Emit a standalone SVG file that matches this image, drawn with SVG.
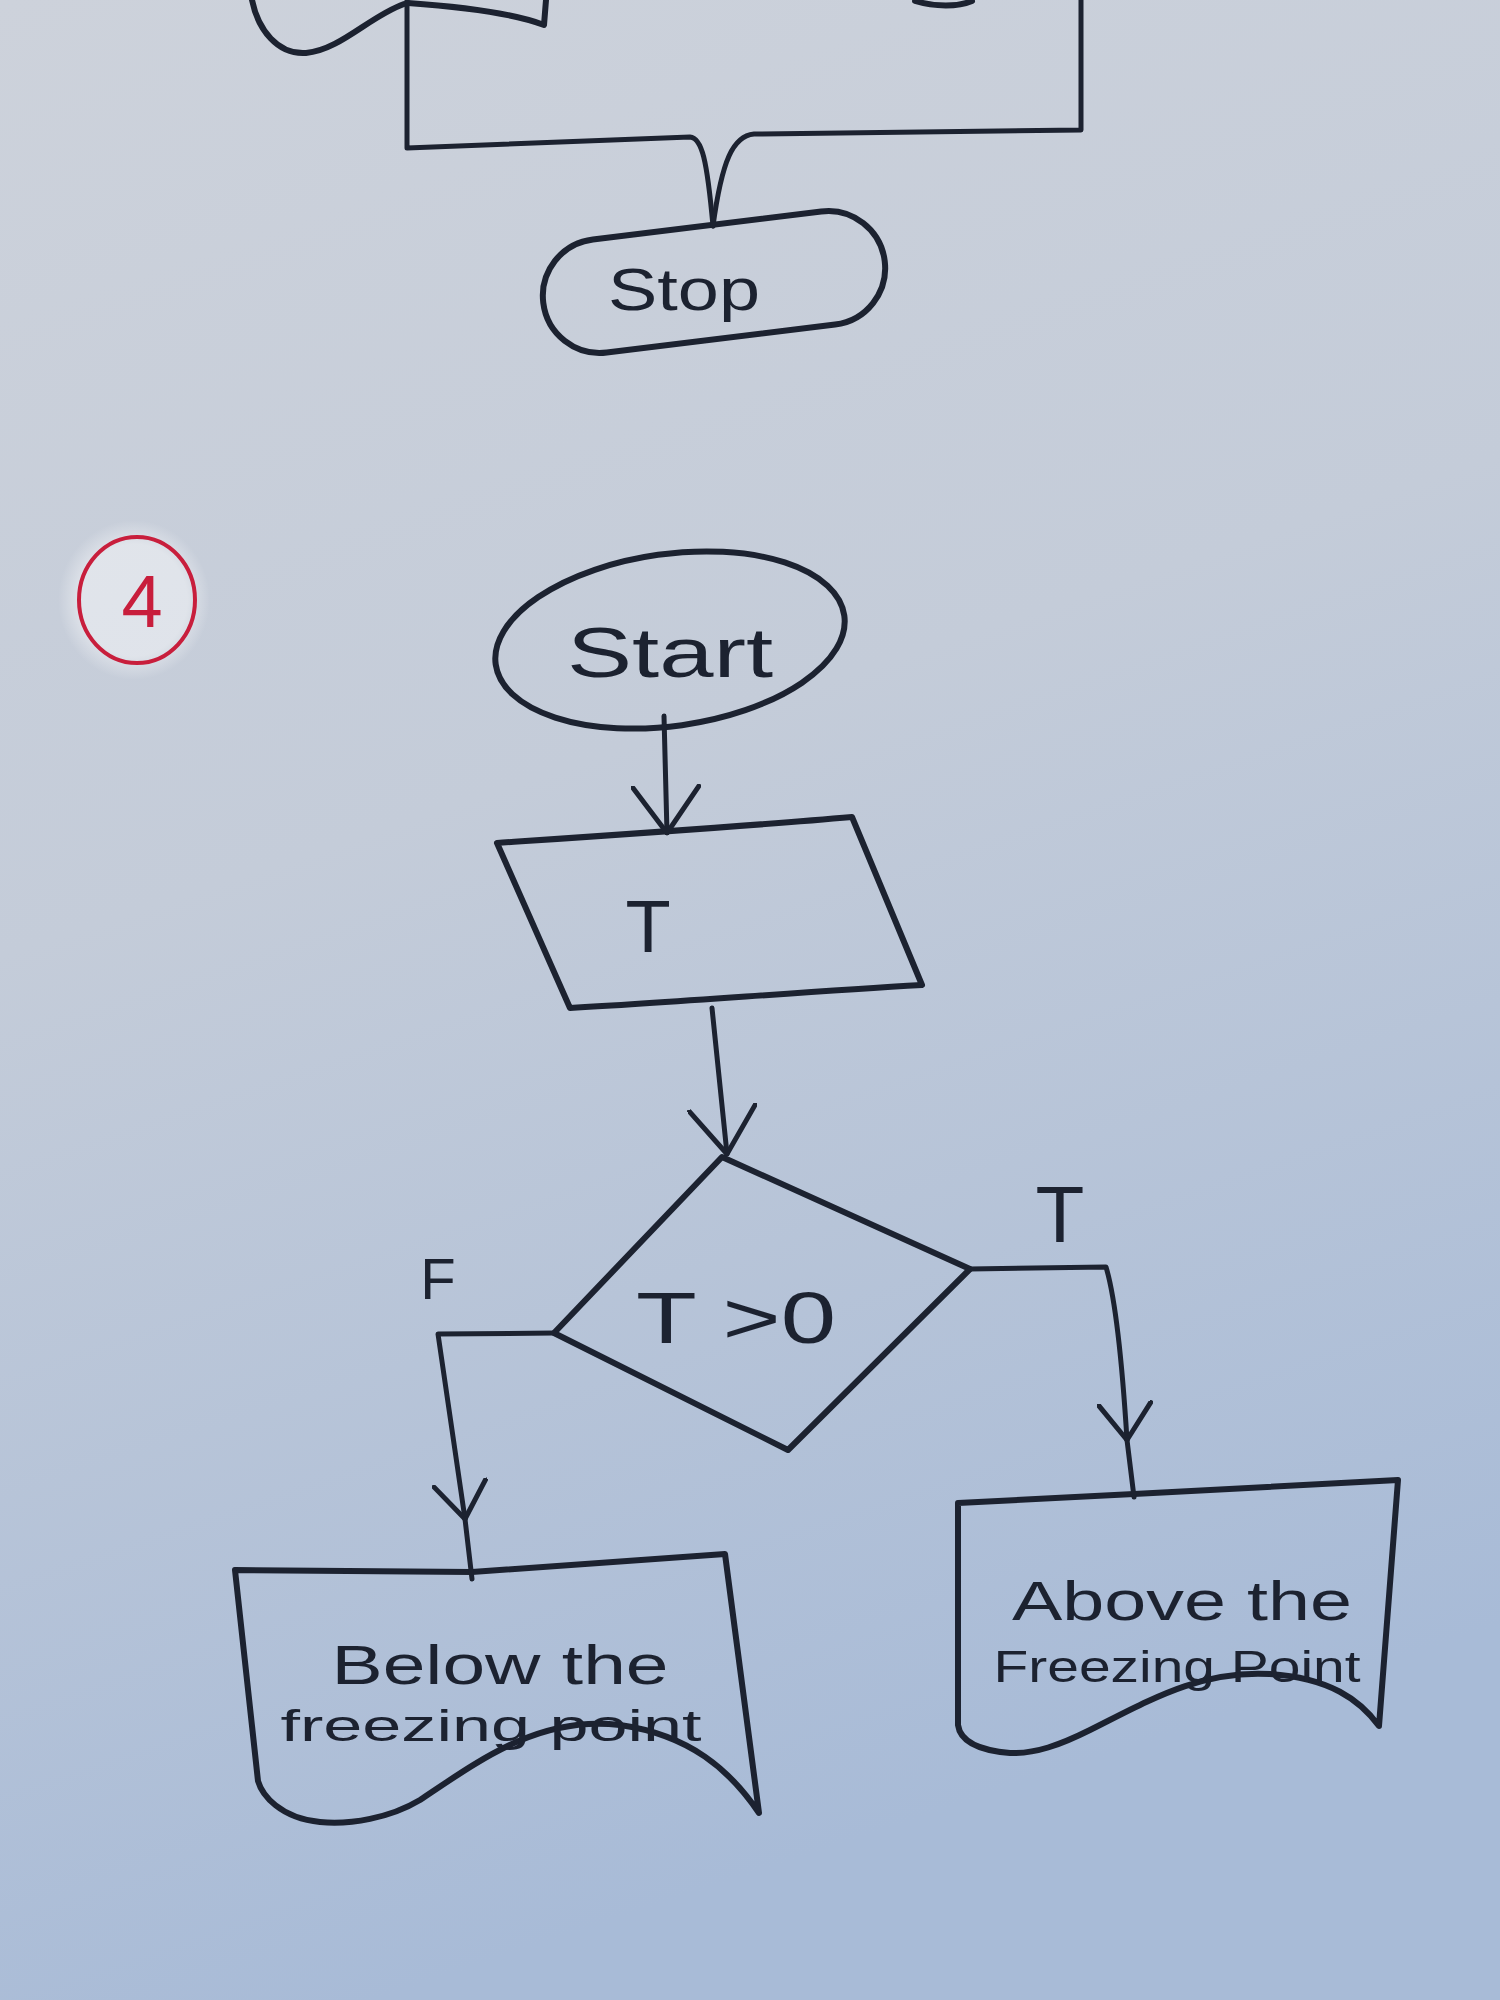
<svg xmlns="http://www.w3.org/2000/svg" width="1500" height="2000" viewBox="0 0 1500 2000">
<defs>
<linearGradient id="paper" x1="0" y1="0" x2="0.25" y2="1">
<stop offset="0" stop-color="#cdd2db"/>
<stop offset="0.45" stop-color="#c4ccd9"/>
<stop offset="1" stop-color="#a8bbd7"/>
</linearGradient>
<radialGradient id="halo" cx="0.5" cy="0.5" r="0.5">
<stop offset="0.7" stop-color="#ffffff" stop-opacity="0.45"/>
<stop offset="1" stop-color="#ffffff" stop-opacity="0"/>
</radialGradient>
<marker id="arrow" viewBox="0 0 50 70" refX="48" refY="35" markerWidth="50" markerHeight="70" markerUnits="userSpaceOnUse" orient="auto">
<path d="M2,2 L48,35 L2,68" fill="none" stroke="#1c2230" stroke-width="5" stroke-linecap="round" stroke-linejoin="round"/>
</marker>
<marker id="arrow-sm" viewBox="0 0 40 56" refX="38" refY="28" markerWidth="40" markerHeight="56" markerUnits="userSpaceOnUse" orient="auto">
<path d="M2,2 L38,28 L2,54" fill="none" stroke="#1c2230" stroke-width="5" stroke-linecap="round" stroke-linejoin="round"/>
</marker>
</defs>
<style>
.shape{fill:none;stroke:#1c2230;stroke-width:6;stroke-linejoin:round;stroke-linecap:round}
.conn{fill:none;stroke:#1c2230;stroke-width:5;stroke-linejoin:round;stroke-linecap:round}
.lbl{font-family:"Liberation Sans","DejaVu Sans",sans-serif;fill:#1c2230;text-anchor:middle}
.red{font-family:"Liberation Sans","DejaVu Sans",sans-serif;fill:#c81e3c;text-anchor:middle}
</style>
<rect x="0" y="0" width="1500" height="2000" fill="url(#paper)"/>

<g id="previous-chart">
<path class="shape" d="M252,0 C258,30 278,55 306,53 C340,50 370,16 404,4"/>
<path class="shape" d="M408,3 C450,6 510,12 544,25 L546,0"/>
<path class="shape" d="M915,1 C935,7 958,7 972,1" stroke-width="9"/>
</g>

<g id="badge-4">
<ellipse cx="134" cy="600" rx="76" ry="80" fill="url(#halo)"/>
<ellipse cx="137" cy="600" rx="58" ry="63" fill="none" stroke="#c81e3c" stroke-width="4"/>
<text class="red" x="142" y="627" font-size="74">4</text>
</g>

<g id="node-stop">
<rect x="-172" y="-57" width="344" height="114" rx="57" ry="57" class="shape" transform="translate(714,282) rotate(-7)"/>
<text class="lbl" x="684" y="310" font-size="60" textLength="152" lengthAdjust="spacingAndGlyphs">Stop</text>
</g>

<g id="node-start">
<ellipse cx="670" cy="640" rx="176" ry="86" class="shape" transform="rotate(-8 670 640)"/>
<text class="lbl" x="670" y="677" font-size="70" textLength="206" lengthAdjust="spacingAndGlyphs">Start</text>
</g>

<g id="node-input">
<path class="shape" d="M497,843 C600,836 750,826 852,817 L922,985 C800,992 680,1002 570,1008 Z"/>
<text class="lbl" x="648" y="952" font-size="74">T</text>
</g>

<g id="node-decision">
<path class="shape" d="M722,1157 L970,1269 L788,1450 L554,1333 Z"/>
<text class="lbl" x="736" y="1343" font-size="72" textLength="200" lengthAdjust="spacingAndGlyphs">T &gt;0</text>
</g>

<g id="node-below">
<path class="shape" d="M235,1570 L472,1572 L725,1554 L759,1813 C730,1770 690,1735 620,1725 C540,1715 480,1760 420,1800 C390,1818 350,1825 320,1822 C280,1818 262,1795 258,1781 Z"/>
<text class="lbl" x="500" y="1684" font-size="56" textLength="337" lengthAdjust="spacingAndGlyphs">Below the</text>
<text class="lbl" x="491" y="1741" font-size="44" textLength="421" lengthAdjust="spacingAndGlyphs">freezing point</text>
</g>

<g id="node-above">
<path class="shape" d="M958,1503 L1134,1494 L1398,1480 L1379,1726 C1360,1700 1330,1678 1270,1674 C1200,1670 1150,1700 1090,1730 C1060,1745 1035,1754 1010,1753 C975,1750 960,1740 958,1725 Z"/>
<text class="lbl" x="1182" y="1620" font-size="56" textLength="340" lengthAdjust="spacingAndGlyphs">Above the</text>
<text class="lbl" x="1177" y="1682" font-size="44" textLength="367" lengthAdjust="spacingAndGlyphs">Freezing Point</text>
</g>

<g id="connectors">
<path class="conn" d="M407,0 L407,148 L690,137 C702,138 707,160 713,226"/>
<path class="conn" d="M1081,0 L1081,130 L754,134 C733,136 722,160 713,226"/>
<path class="conn" d="M664,716 L667,833" marker-end="url(#arrow)"/>
<path class="conn" d="M712,1008 L727,1154" marker-end="url(#arrow)"/>
<path class="conn" d="M554,1333 L438,1334 L465,1519" marker-end="url(#arrow-sm)"/>
<path class="conn" d="M465,1519 L472,1579"/>
<path class="conn" d="M970,1269 L1106,1267 C1116,1300 1122,1360 1127,1440" marker-end="url(#arrow-sm)"/>
<path class="conn" d="M1127,1440 L1134,1497"/>
<text class="lbl" x="438" y="1299" font-size="58">F</text>
<text class="lbl" x="1060" y="1242" font-size="80">T</text>
</g>
</svg>
